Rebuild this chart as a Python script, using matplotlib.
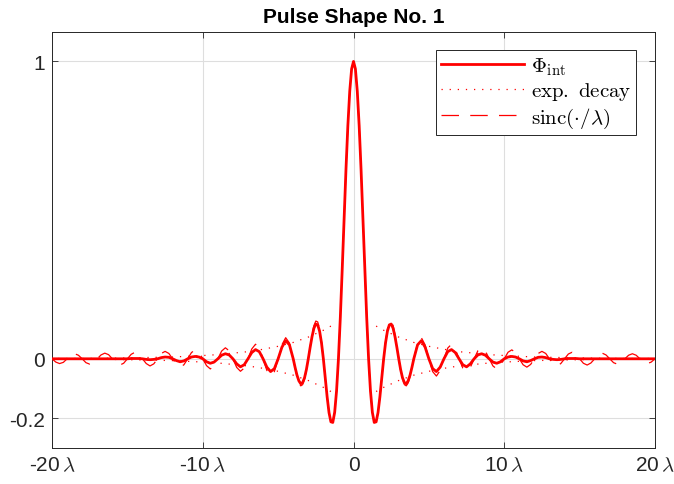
import numpy as np
import matplotlib
matplotlib.use("Agg")
from matplotlib import pyplot as plt

plt.rcParams['font.family'] = ['Liberation Sans', 'DejaVu Sans']
plt.rcParams['mathtext.fontset'] = 'cm'

# sample positions (in units of lambda), x >= 0 half; the pulse is even
x_half = np.concatenate([np.arange(0, 4.001, 0.125), np.arange(4.25, 20.001, 0.25)])

# Phi_int
phi_half = [1.000, 0.975, 0.900, 0.784, 0.637, 0.471, 0.300, 0.139, 0.000,
            -0.108, -0.180, -0.214, -0.212, -0.181, -0.128, -0.064, 0.000,
            0.054, 0.093, 0.114, 0.117, 0.103, 0.075, 0.039, 0.000,
            -0.036, -0.064, -0.080, -0.084, -0.074, -0.055, -0.029, 0.000,
            0.047, 0.061, 0.039, 0.000,
            -0.033, -0.043, -0.028, 0.000,
            0.024, 0.031, 0.021, 0.000,
            -0.020, -0.027, -0.017, 0.000,
            0.013, 0.017, 0.012, 0.000,
            -0.011, -0.015, -0.010, 0.000,
            0.006, 0.008, 0.006, 0.000,
            -0.007, -0.010, -0.006, 0.000,
            0.005, 0.006, 0.004, 0.000,
            -0.002, -0.003, -0.002, 0.000,
            0.001, 0.001, 0.001, 0.000,
            0.000, 0.000, 0.000, 0.000,
            0.000, 0.000, 0.000, 0.000,
            0.000, 0.000, 0.000, 0.000,
            0.000, 0.000, 0.000, 0.000,
            0.000, 0.000, 0.000, 0.000]

# sinc(./lambda) reference curve
sinc_half = [1.000, 0.974, 0.900, 0.784, 0.637, 0.470, 0.300, 0.139, 0.000,
             -0.108, -0.180, -0.214, -0.212, -0.181, -0.129, -0.065, 0.000,
             0.057, 0.100, 0.124, 0.127, 0.112, 0.082, 0.042, 0.000,
             -0.039, -0.069, -0.087, -0.091, -0.081, -0.060, -0.031, 0.000,
             0.053, 0.071, 0.047, 0.000,
             -0.043, -0.058, -0.039, 0.000,
             0.036, 0.049, 0.033, 0.000,
             -0.031, -0.042, -0.029, 0.000,
             0.027, 0.037, 0.026, 0.000,
             -0.024, -0.034, -0.023, 0.000,
             0.022, 0.030, 0.021, 0.000,
             -0.020, -0.028, -0.019, 0.000,
             0.018, 0.025, 0.018, 0.000,
             -0.017, -0.024, -0.016, 0.000,
             0.016, 0.022, 0.015, 0.000,
             -0.015, -0.021, -0.014, 0.000,
             0.014, 0.019, 0.013, 0.000,
             -0.013, -0.018, -0.013, 0.000,
             0.012, 0.017, 0.012, 0.000,
             -0.012, -0.016, -0.011, 0.000]

# exponential decay envelope (upper branch, x >= 0)
env_x = [1.5, 2, 3, 4, 5, 6, 7, 8, 9, 10, 12, 14, 16, 18, 20]
env_y = [0.110, 0.096, 0.073, 0.055, 0.042, 0.032, 0.024, 0.019, 0.014,
         0.011, 0.006, 0.004, 0.002, 0.001, 0.001]

xticks = [-20, -10, 0, 10, 20]
xticklabels = ['-20$\\,\\lambda$', '-10$\\,\\lambda$', '0', '10$\\,\\lambda$', '20$\\,\\lambda$']
yticks = [-0.2, 0, 1]
yticklabels = ['-0.2', '0', '1']


def mirror(h, odd=False):
    h = np.asarray(h, dtype=float)
    left = -h[:0:-1] if odd else h[:0:-1]
    return np.concatenate([left, h])


x = mirror(x_half, odd=True)
phi = mirror(phi_half)
sinc = mirror(sinc_half)
ex = np.asarray(env_x)
ey = np.asarray(env_y)

fig = plt.figure(figsize=(6.74, 4.85), dpi=100)
ax = fig.add_axes([0.0772, 0.0742, 0.8946, 0.8584])

red = (1, 0, 0)
ax.plot(x, phi, color=red, lw=2.0, label='$\\Phi_{\\mathrm{int}}$', zorder=3)
ax.plot(ex, ey, color=red, lw=0.9, dashes=(1, 5.5), label='$\\mathrm{exp.\\ decay}$', zorder=3)
ax.plot(ex, -ey, color=red, lw=0.9, dashes=(1, 5.5), zorder=3)
ax.plot(-ex, ey, color=red, lw=0.9, dashes=(1, 5.5), zorder=3)
ax.plot(-ex, -ey, color=red, lw=0.9, dashes=(1, 5.5), zorder=3)
ax.plot(x, sinc, color=red, lw=0.9, dashes=(14, 9), label='$\\mathrm{sinc}(\\cdot/\\lambda)$', zorder=4)

ax.set_xlim(-20, 20)
ax.set_ylim(-0.3, 1.1)
ax.set_xticks(xticks)
ax.set_xticklabels(xticklabels)
ax.set_yticks(yticks)
ax.set_yticklabels(yticklabels)
ax.tick_params(direction='in', top=True, right=True, length=4, width=0.6,
               labelsize=15, colors=(0.15, 0.15, 0.15), pad=5)
ax.grid(True, color=(0.87, 0.87, 0.87), lw=0.8)
ax.set_axisbelow(True)
for s in ax.spines.values():
    s.set_color((0.15, 0.15, 0.15))
    s.set_linewidth(0.7)

ax.set_title('Pulse Shape No. 1', fontsize=15, fontweight='bold', pad=7)

leg = ax.legend(loc='upper right', fontsize=15, handlelength=4.0, fancybox=False,
                framealpha=1, edgecolor=(0.15, 0.15, 0.15), borderaxespad=0.9,
                labelspacing=0.15, handletextpad=0.3, borderpad=0.25)
leg.get_frame().set_linewidth(0.7)

fig.savefig('out.png', dpi=100)
